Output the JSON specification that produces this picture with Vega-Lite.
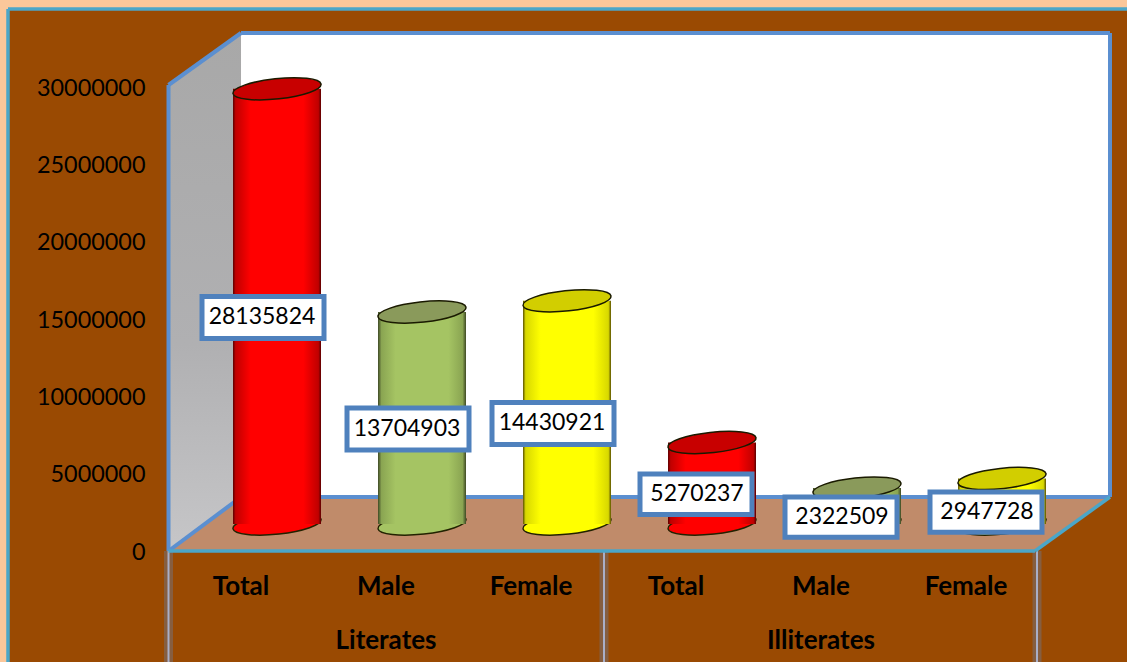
{
"$schema":"https://vega.github.io/schema/vega-lite/v6.json",
"width":1127,"height":662,"padding":0,"autosize":{"type":"none"},
"background":"#FBC79A",
"config":{"view":{"stroke":null}},
"datasets":{
"bars":[
{"group":"Literates","category":"Total","series":"Total","x":0.5,"value":28135824,"base":0},
{"group":"Literates","category":"Male","series":"Male","x":1.5,"value":13704903,"base":0},
{"group":"Literates","category":"Female","series":"Female","x":2.5,"value":14430921,"base":0},
{"group":"Illiterates","category":"Total","series":"Total","x":3.5,"value":5270237,"base":0},
{"group":"Illiterates","category":"Male","series":"Male","x":4.5,"value":2322509,"base":0},
{"group":"Illiterates","category":"Female","series":"Female","x":5.5,"value":2947728,"base":0}
],
"groups":[{"group":"Literates","x":1.5,"base":0},{"group":"Illiterates","x":4.5,"base":0}],
"panel":[{"x":-1.1069,"x2":6.6103,"y":35043103,"y2":-7176724}],
"back":[{"x":0.5,"x2":6.4931,"y":33491379,"y2":3491379}],
"wall":[{"x":0,"y":30129310,"y2":0},{"x":0.5,"y":33491379,"y2":3491379}],
"floor":[{"x":0,"y":0,"y2":0},{"x":0.5,"y":3491379,"y2":0},{"x":5.9759,"y":3491379,"y2":0},{"x":6.4931,"y":3491379,"y2":3491379}],
"edges":[
{"x":0,"x2":0.5,"y":30129310,"y2":33491379},
{"x":0.5,"x2":6.4931,"y":33491379,"y2":33491379},
{"x":6.4931,"x2":6.4931,"y":33491379,"y2":3491379},
{"x":0.5,"x2":6.4931,"y":3491379,"y2":3491379},
{"x":0,"x2":0,"y":30129310,"y2":0},
{"x":0,"x2":0.5,"y":0,"y2":3491379}
],
"front":[
{"x":0,"x2":5.9759,"y":0,"y2":0},
{"x":5.9759,"x2":6.4931,"y":0,"y2":3491379},
{"x":-1.1069,"x2":6.6103,"y":35043103,"y2":35043103},
{"x":-1.1069,"x2":-1.1069,"y":35043103,"y2":-7176724}
],
"drops":[{"x":0,"y":0,"y2":-7176724},{"x":3.0034,"y":0,"y2":-7176724},{"x":5.9897,"y":0,"y2":-7176724}]
},
"encoding":{
"x":{"field":"x","type":"quantitative","scale":{"domain":[-1.1621,6.6103],"range":[0,1127],"nice":false,"zero":false,"padding":0},"axis":null},
"y":{"field":"y","type":"quantitative","scale":{"domain":[-7176724,35625000],"range":[662,0],"nice":false,"zero":false,"padding":0},"axis":{"values":[0,5000000,10000000,15000000,20000000,25000000,30000000],"format":"d","title":null,"orient":"left","offset":-150,"domain":false,"ticks":false,"grid":false,"labelPadding":5,"labelOffset":1,"labelFont":"Lato","labelFontSize":23.4,"labelColor":"#000000","zindex":1,"labelBound":false,"labelOverlap":false}}
},
"layer":[
{"data":{"name":"panel"},"mark":{"type":"rect","fill":"#9A4A02"},"encoding":{"x2":{"field":"x2"},"y2":{"field":"y2"}}},
{"data":{"name":"back"},"mark":{"type":"rect","fill":"#FFFFFF"},"encoding":{"x2":{"field":"x2"},"y2":{"field":"y2"}}},
{"data":{"name":"wall"},"mark":{"type":"area","orient":"vertical","fill":{"gradient":"linear","x1":0,"y1":0,"x2":0,"y2":1,"stops":[{"offset":0,"color":"#A8A8A8"},{"offset":0.6,"color":"#B0B0B2"},{"offset":1,"color":"#C6C6C8"}]}},"encoding":{"y2":{"field":"y2"}}},
{"data":{"name":"floor"},"mark":{"type":"area","orient":"vertical","fill":"#C08B6A"},"encoding":{"y2":{"field":"y2"}}},
{"data":{"name":"drops"},"mark":{"type":"rule","stroke":"#5B8FD0","strokeWidth":9,"opacity":0.3},"encoding":{"y2":{"field":"y2"}}},
{"data":{"name":"drops"},"mark":{"type":"rule","stroke":"#A9AFC8","strokeWidth":2},"encoding":{"y2":{"field":"y2"}}},
{"data":{"name":"edges"},"mark":{"type":"rule","stroke":"#5B8FD0","strokeWidth":4},"encoding":{"x2":{"field":"x2"},"y2":{"field":"y2"}}},
{"data":{"name":"front"},"mark":{"type":"rule","stroke":"#4BA6C8","strokeWidth":3.5},"encoding":{"x2":{"field":"x2"},"y2":{"field":"y2"}}},
{"data":{"name":"bars"},"transform":[{"filter":{"field":"series","equal":"Total"}}],"layer":[
 {"mark":{"type":"point","filled":true,"opacity":1,"fill":"#FF0000","xOffset":36,"yOffset":-27,"shape":"M-1,0.11A1,0.23 -6 1,0 1,-0.11A1,0.23 -6 1,0 -1,0.11Z","size":7744,"stroke":"#222200","strokeWidth":1.5},"encoding":{"y":{"field":"base","type":"quantitative"}}},
 {"mark":{"type":"bar","orient":"vertical","size":88,"xOffset":36,"yOffset":-27,"y2Offset":-27,"fill":{"gradient":"linear","x1":0,"y1":0,"x2":1,"y2":0,"stops":[{"offset":0,"color":"#5A0000"},{"offset":0.03,"color":"#C00000"},{"offset":0.2,"color":"#FF0000"},{"offset":0.8,"color":"#FF0000"},{"offset":0.97,"color":"#C00000"},{"offset":1,"color":"#5A0000"}]}},"encoding":{"y":{"field":"value","type":"quantitative","stack":null},"y2":{"field":"base"}}},
 {"mark":{"type":"point","filled":true,"opacity":1,"fill":"#C80000","xOffset":36,"yOffset":-27,"shape":"M-1,0.11A1,0.23 -6 1,0 1,-0.11A1,0.23 -6 1,0 -1,0.11Z","size":7744,"stroke":"#1A1A00","strokeWidth":1.5},"encoding":{"y":{"field":"value","type":"quantitative","stack":null}}}
]},
{"data":{"name":"bars"},"transform":[{"filter":{"field":"series","equal":"Male"}}],"layer":[
 {"mark":{"type":"point","filled":true,"opacity":1,"fill":"#A5C463","xOffset":36,"yOffset":-27,"shape":"M-1,0.11A1,0.23 -6 1,0 1,-0.11A1,0.23 -6 1,0 -1,0.11Z","size":7744,"stroke":"#222200","strokeWidth":1.5},"encoding":{"y":{"field":"base","type":"quantitative"}}},
 {"mark":{"type":"bar","orient":"vertical","size":88,"xOffset":36,"yOffset":-27,"y2Offset":-27,"fill":{"gradient":"linear","x1":0,"y1":0,"x2":1,"y2":0,"stops":[{"offset":0,"color":"#3F4A25"},{"offset":0.04,"color":"#8AA552"},{"offset":0.2,"color":"#A5C463"},{"offset":0.8,"color":"#A5C463"},{"offset":0.96,"color":"#8AA552"},{"offset":1,"color":"#3F4A25"}]}},"encoding":{"y":{"field":"value","type":"quantitative","stack":null},"y2":{"field":"base"}}},
 {"mark":{"type":"point","filled":true,"opacity":1,"fill":"#8A9A5B","xOffset":36,"yOffset":-27,"shape":"M-1,0.11A1,0.23 -6 1,0 1,-0.11A1,0.23 -6 1,0 -1,0.11Z","size":7744,"stroke":"#1A1A00","strokeWidth":1.5},"encoding":{"y":{"field":"value","type":"quantitative","stack":null}}}
]},
{"data":{"name":"bars"},"transform":[{"filter":{"field":"series","equal":"Female"}}],"layer":[
 {"mark":{"type":"point","filled":true,"opacity":1,"fill":"#FFFF00","xOffset":36,"yOffset":-27,"shape":"M-1,0.11A1,0.23 -6 1,0 1,-0.11A1,0.23 -6 1,0 -1,0.11Z","size":7744,"stroke":"#222200","strokeWidth":1.5},"encoding":{"y":{"field":"base","type":"quantitative"}}},
 {"mark":{"type":"bar","orient":"vertical","size":88,"xOffset":36,"yOffset":-27,"y2Offset":-27,"fill":{"gradient":"linear","x1":0,"y1":0,"x2":1,"y2":0,"stops":[{"offset":0,"color":"#5A5000"},{"offset":0.03,"color":"#D8D800"},{"offset":0.2,"color":"#FFFF00"},{"offset":0.8,"color":"#FFFF00"},{"offset":0.97,"color":"#D8D800"},{"offset":1,"color":"#5A5000"}]}},"encoding":{"y":{"field":"value","type":"quantitative","stack":null},"y2":{"field":"base"}}},
 {"mark":{"type":"point","filled":true,"opacity":1,"fill":"#D2CE00","xOffset":36,"yOffset":-27,"shape":"M-1,0.11A1,0.23 -6 1,0 1,-0.11A1,0.23 -6 1,0 -1,0.11Z","size":7744,"stroke":"#1A1A00","strokeWidth":1.5},"encoding":{"y":{"field":"value","type":"quantitative","stack":null}}}
]},
{"data":{"name":"bars"},"transform":[{"filter":"datum.value >= 10000000"}],"mark":{"type":"point","filled":true,"opacity":1,"fill":"#FFFFFF","stroke":"#4F81BD","strokeWidth":5,"xOffset":22,"yOffset":-16,"shape":"M-1,-0.344H1V0.344H-1Z","size":14884},
 "encoding":{"y":{"field":"value","type":"quantitative","stack":"zero","bandPosition":0.5}}},
{"data":{"name":"bars"},"transform":[{"filter":"datum.value < 10000000"}],"mark":{"type":"point","filled":true,"opacity":1,"fill":"#FFFFFF","stroke":"#4F81BD","strokeWidth":5,"xOffset":20,"yOffset":-16,"shape":"M-1,-0.36H1V0.36H-1Z","size":12544},
 "encoding":{"y":{"field":"value","type":"quantitative","stack":"zero","bandPosition":0.5}}},
{"data":{"name":"bars"},"mark":{"type":"text","font":"Lato","fontSize":23,"fill":"#000000","align":"center","baseline":"middle","xOffset":21,"yOffset":-16},
 "encoding":{"y":{"field":"value","type":"quantitative","stack":"zero","bandPosition":0.5},"text":{"field":"value","type":"quantitative","format":"d"}}},
{"data":{"name":"bars"},"mark":{"type":"text","font":"Lato","fontSize":26,"fontWeight":"bold","fill":"#000000","align":"center","baseline":"middle","yOffset":36},
 "encoding":{"y":{"field":"base","type":"quantitative"},"text":{"field":"category"}}},
{"data":{"name":"groups"},"mark":{"type":"text","font":"Lato","fontSize":26,"fontWeight":"bold","fill":"#000000","align":"center","baseline":"middle","yOffset":90},
 "encoding":{"y":{"field":"base","type":"quantitative"},"text":{"field":"group"}}}
]
}
